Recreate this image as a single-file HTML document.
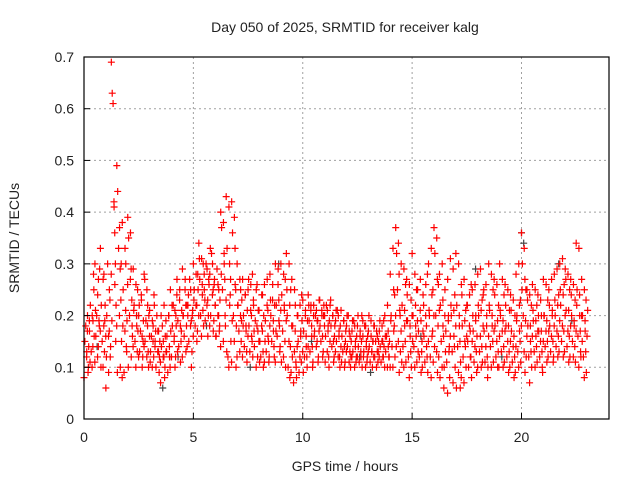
<!DOCTYPE html>
<html><head><meta charset="utf-8"><style>
body{margin:0;background:#fff;}
svg text{font-family:"Liberation Sans",sans-serif;font-size:14px;fill:#222;}
</style></head><body>
<svg width="640" height="480" xmlns="http://www.w3.org/2000/svg">
<g id="grid"></g>
<g id="pts"></g>
<rect x="84" y="57" width="525" height="362" fill="none" stroke="#000" stroke-width="1.2"/>
<g id="ticks"></g>
<text x="345" y="32" text-anchor="middle">Day 050 of 2025, SRMTID for receiver kalg</text>
<text x="345" y="471" text-anchor="middle">GPS time / hours</text>
<text transform="translate(19,238) rotate(-90)" text-anchor="middle">SRMTID / TECUs</text>
</svg>
<script>
const xTicks=[0,5,10,15,20];
const yTicks=[0,0.1,0.2,0.3,0.4,0.5,0.6,0.7];
const yTickLabels=["0","0.1","0.2","0.3","0.4","0.5","0.6","0.7"];
const times=[0,0.25,0.5,0.75,1,1.25,1.5,1.75,2,2.25,2.5,2.75,3,3.25,3.5,3.75,4,4.25,4.5,4.75,5,5.25,5.5,5.75,6,6.25,6.5,6.75,7,7.25,7.5,7.75,8,8.25,8.5,8.75,9,9.25,9.5,9.75,10,10.25,10.5,10.75,11,11.25,11.5,11.75,12,12.25,12.5,12.75,13,13.25,13.5,13.75,14,14.25,14.5,14.75,15,15.25,15.5,15.75,16,16.25,16.5,16.75,17,17.25,17.5,17.75,18,18.25,18.5,18.75,19,19.25,19.5,19.75,20,20.25,20.5,20.75,21,21.25,21.5,21.75,22,22.25,22.5,22.75];
const redValues=[
[0.08,0.15,0.18,0.12,0.2,0.1],[0.17,0.22,0.13,0.1,0.19,0.25],[0.3,0.16,0.2,0.12,0.27,0.18],[0.33,0.22,0.15,0.1,0.28,0.19],
[0.06,0.2,0.3,0.16,0.25,0.12],[0.69,0.63,0.61,0.42,0.26,0.15],[0.49,0.44,0.33,0.2,0.1,0.3],[0.38,0.25,0.09,0.17,0.3,0.13],
[0.39,0.35,0.2,0.27,0.12,0.18],[0.29,0.22,0.15,0.1,0.18,0.25],[0.2,0.13,0.17,0.24,0.1,0.15],[0.28,0.15,0.19,0.12,0.22,0.1],
[0.21,0.13,0.16,0.1,0.18,0.24],[0.15,0.1,0.2,0.13,0.17,0.12],[0.07,0.14,0.18,0.12,0.22,0.1],[0.13,0.16,0.09,0.2,0.12,0.25],
[0.12,0.18,0.22,0.15,0.1,0.2],[0.27,0.19,0.14,0.23,0.11,0.17],[0.29,0.2,0.16,0.25,0.13,0.22],[0.22,0.15,0.27,0.18,0.1,0.2],
[0.3,0.25,0.18,0.22,0.15,0.28],[0.34,0.27,0.2,0.16,0.24,0.3],[0.25,0.19,0.3,0.22,0.16,0.27],[0.28,0.2,0.32,0.24,0.17,0.26],
[0.22,0.16,0.29,0.2,0.25,0.18],[0.4,0.37,0.25,0.15,0.3,0.2],[0.43,0.33,0.12,0.1,0.22,0.27],[0.42,0.36,0.2,0.15,0.26,0.1],
[0.3,0.22,0.17,0.13,0.25,0.19],[0.27,0.2,0.14,0.24,0.17,0.11],[0.25,0.18,0.13,0.21,0.16,0.28],[0.22,0.14,0.19,0.1,0.26,0.17],
[0.21,0.15,0.12,0.18,0.24,0.1],[0.26,0.19,0.13,0.22,0.16,0.11],[0.28,0.2,0.15,0.23,0.17,0.12],[0.3,0.22,0.16,0.26,0.19,0.13],
[0.3,0.24,0.17,0.12,0.21,0.27],[0.32,0.2,0.1,0.15,0.08,0.25],[0.27,0.18,0.07,0.13,0.22,0.1],[0.2,0.15,0.09,0.12,0.17,0.24],
[0.23,0.17,0.12,0.2,0.14,0.1],[0.24,0.19,0.13,0.21,0.16,0.1],[0.22,0.17,0.2,0.14,0.19,0.11],[0.23,0.18,0.15,0.21,0.12,0.2],
[0.2,0.16,0.22,0.13,0.18,0.1],[0.22,0.18,0.14,0.2,0.11,0.16],[0.19,0.15,0.21,0.12,0.17,0.1],[0.21,0.16,0.13,0.19,0.1,0.15],
[0.18,0.14,0.2,0.11,0.16,0.12],[0.17,0.13,0.19,0.1,0.15,0.12],[0.18,0.14,0.11,0.16,0.12,0.2],[0.16,0.13,0.18,0.1,0.15,0.12],
[0.17,0.14,0.11,0.19,0.13,0.15],[0.18,0.12,0.15,0.1,0.16,0.13],[0.17,0.14,0.11,0.15,0.12,0.19],[0.2,0.13,0.16,0.1,0.14,0.12],
[0.28,0.2,0.14,0.1,0.17,0.24],[0.37,0.32,0.25,0.15,0.09,0.2],[0.3,0.22,0.14,0.1,0.18,0.26],[0.27,0.19,0.12,0.08,0.16,0.23],
[0.32,0.2,0.14,0.1,0.18,0.25],[0.25,0.17,0.12,0.21,0.09,0.15],[0.24,0.16,0.11,0.2,0.14,0.28],[0.3,0.2,0.12,0.08,0.16,0.25],
[0.37,0.32,0.2,0.13,0.09,0.26],[0.28,0.22,0.15,0.1,0.18,0.06],[0.25,0.17,0.11,0.05,0.2,0.14],[0.31,0.2,0.13,0.07,0.16,0.24],
[0.32,0.22,0.14,0.09,0.18,0.06],[0.26,0.18,0.12,0.07,0.15,0.21],[0.22,0.15,0.1,0.18,0.12,0.26],[0.25,0.17,0.11,0.14,0.2,0.09],
[0.28,0.2,0.13,0.16,0.1,0.23],[0.24,0.17,0.11,0.14,0.2,0.08],[0.3,0.21,0.14,0.1,0.18,0.25],[0.27,0.18,0.12,0.15,0.1,0.22],
[0.3,0.2,0.13,0.17,0.1,0.24],[0.26,0.18,0.12,0.15,0.09,0.21],[0.24,0.17,0.11,0.14,0.08,0.2],[0.28,0.2,0.13,0.1,0.17,0.23],
[0.36,0.3,0.2,0.13,0.09,0.25],[0.25,0.18,0.12,0.07,0.15,0.22],[0.26,0.19,0.13,0.1,0.16,0.22],[0.24,0.17,0.12,0.15,0.2,0.1],
[0.27,0.2,0.14,0.17,0.11,0.23],[0.25,0.18,0.13,0.16,0.21,0.11],[0.28,0.2,0.14,0.17,0.12,0.24],[0.3,0.22,0.15,0.18,0.12,0.26],
[0.29,0.21,0.14,0.17,0.11,0.25],[0.27,0.2,0.15,0.12,0.18,0.23],[0.34,0.25,0.16,0.1,0.2,0.13],[0.27,0.2,0.12,0.08,0.17,0.23]];
const redValues2=[
[0.13,0.17,0.09,0.14,0.19,0.11],[0.2,0.14,0.28,0.16,0.11,0.21],[0.24,0.14,0.19,0.29,0.17,0.1],[0.27,0.18,0.13,0.22,0.16,0.12],
[0.09,0.17,0.23,0.14,0.28,0.19],[0.41,0.36,0.3,0.22,0.18,0.09],[0.37,0.29,0.23,0.15,0.08,0.18],[0.33,0.21,0.14,0.19,0.26,0.1],
[0.36,0.29,0.23,0.16,0.14,0.21],[0.26,0.2,0.13,0.17,0.12,0.22],[0.23,0.16,0.12,0.19,0.14,0.27],[0.25,0.18,0.13,0.2,0.16,0.11],
[0.19,0.15,0.12,0.22,0.14,0.17],[0.17,0.13,0.09,0.15,0.11,0.2],[0.15,0.12,0.08,0.16,0.19,0.13],[0.2,0.14,0.1,0.17,0.12,0.22],
[0.16,0.21,0.12,0.18,0.24,0.13],[0.25,0.18,0.15,0.21,0.12,0.2],[0.27,0.22,0.18,0.14,0.2,0.24],[0.25,0.19,0.13,0.21,0.16,0.23],
[0.28,0.22,0.17,0.25,0.2,0.31],[0.31,0.26,0.21,0.18,0.28,0.23],[0.29,0.23,0.2,0.26,0.18,0.33],[0.3,0.25,0.19,0.27,0.22,0.16],
[0.26,0.2,0.17,0.23,0.14,0.28],[0.38,0.32,0.27,0.18,0.23,0.13],[0.41,0.3,0.24,0.15,0.11,0.19],[0.39,0.33,0.25,0.18,0.12,0.22],
[0.27,0.2,0.15,0.23,0.12,0.18],[0.24,0.18,0.13,0.21,0.16,0.27],[0.26,0.2,0.15,0.12,0.23,0.17],[0.25,0.18,0.12,0.21,0.15,0.11],
[0.24,0.17,0.13,0.2,0.11,0.15],[0.27,0.21,0.15,0.12,0.18,0.23],[0.26,0.19,0.14,0.22,0.11,0.17],[0.29,0.23,0.18,0.14,0.21,0.11],
[0.28,0.22,0.15,0.1,0.19,0.25],[0.3,0.22,0.14,0.09,0.18,0.12],[0.25,0.17,0.11,0.08,0.14,0.2],[0.22,0.16,0.11,0.19,0.13,0.09],
[0.21,0.16,0.12,0.19,0.14,0.22],[0.22,0.18,0.14,0.11,0.2,0.16],[0.21,0.15,0.19,0.12,0.17,0.23],[0.2,0.16,0.13,0.22,0.18,0.11],
[0.21,0.17,0.12,0.19,0.15,0.23],[0.2,0.15,0.12,0.18,0.13,0.21],[0.2,0.16,0.12,0.18,0.14,0.11],[0.19,0.14,0.11,0.17,0.13,0.2],
[0.17,0.13,0.1,0.15,0.12,0.19],[0.18,0.14,0.11,0.16,0.12,0.2],[0.17,0.13,0.15,0.1,0.19,0.12],[0.18,0.14,0.11,0.16,0.13,0.2],
[0.16,0.13,0.1,0.15,0.12,0.18],[0.17,0.13,0.11,0.15,0.12,0.19],[0.18,0.15,0.12,0.14,0.1,0.16],[0.22,0.17,0.12,0.15,0.1,0.19],
[0.33,0.25,0.18,0.12,0.2,0.14],[0.34,0.28,0.21,0.13,0.17,0.11],[0.29,0.21,0.15,0.11,0.19,0.24],[0.26,0.18,0.13,0.1,0.2,0.15],
[0.28,0.22,0.16,0.11,0.19,0.13],[0.27,0.19,0.13,0.1,0.17,0.22],[0.26,0.18,0.12,0.09,0.15,0.21],[0.33,0.24,0.17,0.11,0.2,0.14],
[0.35,0.27,0.18,0.12,0.21,0.08],[0.3,0.23,0.16,0.1,0.2,0.13],[0.27,0.19,0.13,0.08,0.16,0.22],[0.29,0.21,0.14,0.1,0.18,0.06],
[0.3,0.2,0.15,0.11,0.08,0.24],[0.27,0.19,0.14,0.1,0.16,0.22],[0.24,0.17,0.12,0.08,0.15,0.2],[0.26,0.19,0.13,0.16,0.1,0.22],
[0.29,0.21,0.14,0.11,0.18,0.25],[0.26,0.18,0.12,0.1,0.16,0.22],[0.28,0.2,0.15,0.11,0.17,0.24],[0.26,0.19,0.13,0.1,0.16,0.21],
[0.27,0.19,0.14,0.11,0.17,0.22],[0.25,0.18,0.13,0.1,0.15,0.21],[0.23,0.16,0.12,0.09,0.14,0.19],[0.3,0.22,0.15,0.11,0.18,0.25],
[0.33,0.27,0.19,0.12,0.16,0.23],[0.24,0.18,0.13,0.1,0.16,0.21],[0.25,0.19,0.14,0.11,0.17,0.2],[0.23,0.17,0.13,0.09,0.15,0.2],
[0.26,0.19,0.15,0.12,0.17,0.22],[0.27,0.2,0.15,0.12,0.18,0.23],[0.29,0.22,0.16,0.13,0.19,0.25],[0.31,0.24,0.17,0.13,0.2,0.27],
[0.28,0.21,0.16,0.12,0.18,0.24],[0.26,0.19,0.14,0.11,0.17,0.22],[0.33,0.24,0.17,0.12,0.2,0.15],[0.25,0.19,0.13,0.09,0.16,0.21]];
const grayTimes=[0.6,2.4,3.6,4.3,5.6,7.6,8.9,10.4,12.6,13.1,15.4,17.9,19.1,20.0,20.1,21.7,22.3];
const grayValues=[0.14,0.2,0.06,0.12,0.18,0.1,0.3,0.15,0.12,0.09,0.16,0.29,0.12,0.36,0.34,0.3,0.19];
const X0=84,X1=609,Y0=419,Y1=57,XMAX=24,YMAX=0.7;
const xs=v=>X0+v/XMAX*(X1-X0);
const ys=v=>Y0-v/YMAX*(Y0-Y1);
const NS="http://www.w3.org/2000/svg";
const g=document.getElementById('grid'),tk=document.getElementById('ticks'),pts=document.getElementById('pts');
function line(p,x1,y1,x2,y2,st,dash){const l=document.createElementNS(NS,'line');l.setAttribute('x1',x1);l.setAttribute('y1',y1);l.setAttribute('x2',x2);l.setAttribute('y2',y2);l.setAttribute('stroke',st);if(dash)l.setAttribute('stroke-dasharray',dash);p.appendChild(l);return l;}
function txt(p,x,y,s,anc){const t=document.createElementNS(NS,'text');t.setAttribute('x',x);t.setAttribute('y',y);t.setAttribute('text-anchor',anc);t.textContent=s;p.appendChild(t);return t;}
xTicks.forEach(v=>{const x=xs(v);
 if(v>0){const gl=line(g,x,Y0,x,Y1,'#a0a0a0','2,3');
 
 }
 const tl=line(tk,x,Y0,x,Y0-6,'#000');
 
 
 const t=txt(tk,x,442,String(v),'middle');
 
 });
yTicks.forEach((v,i)=>{const y=ys(v);
 if(v>0&&v<YMAX){const gl=line(g,X0,y,X1,y,'#a0a0a0','2,3');
 
 }
 const tl=line(tk,X0,y,X0+6,y,'#000');
 
 
 const t=txt(tk,74,y+5,yTickLabels[i],'end');
 
 });
function plus(x,y,c,name){const p=document.createElementNS(NS,'path');p.setAttribute('d',`M${x-3.5},${y}h7M${x},${y-3.5}v7`);p.setAttribute('stroke',c);p.setAttribute('stroke-width','1.2');
 
 
 pts.appendChild(p);}
grayTimes.forEach((t,i)=>plus(xs(t),ys(grayValues[i]),'#444','gray-point'));
times.forEach((t,i)=>redValues[i].forEach((v,j)=>plus(xs(t+j*0.04),ys(v),'#ff0000','red-point')));
times.forEach((t,i)=>redValues2[i].forEach((v,j)=>plus(xs(t+0.125+j*0.03),ys(v),'#ff0000','red-point')));
</script>
</body></html>
